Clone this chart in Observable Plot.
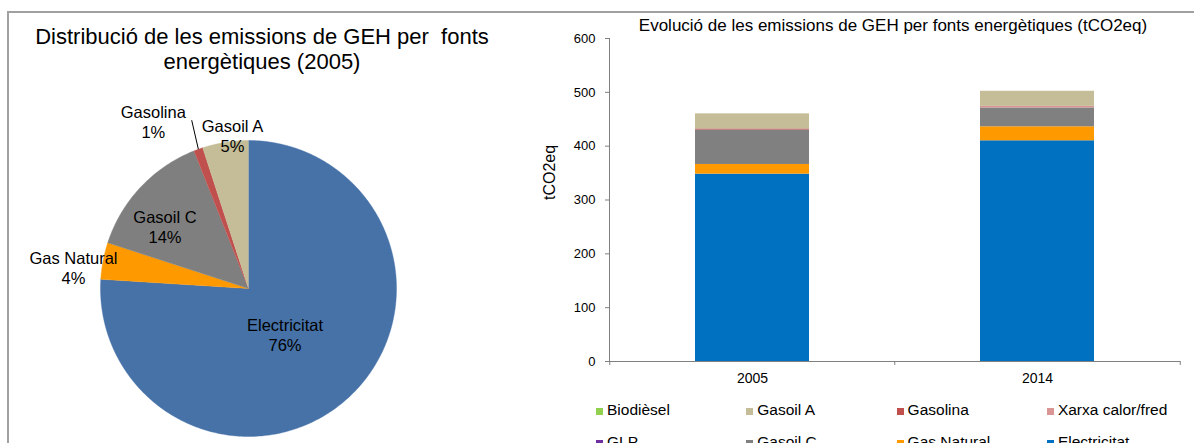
<!DOCTYPE html>
<html>
<head>
<meta charset="utf-8">
<script src="https://cdn.jsdelivr.net/npm/d3@7"></script>
<script src="https://cdn.jsdelivr.net/npm/@observablehq/plot@0.6"></script>
<style>
  body { margin: 0; background: #fff; font-family: "Liberation Sans", Arial, sans-serif; }
  #page { position: relative; width: 1194px; height: 443px; overflow: hidden; background: #fff; }
  #frame { position: absolute; left: 7px; top: 11px; right: 0; bottom: -4px;
           border-top: 2px solid #a0a0a0; border-left: 2px solid #a0a0a0; }
  .title { position: absolute; text-align: center; color: #000; white-space: pre; }
  .chart { position: absolute; top: 0; }
  .legend-item { position: absolute; font-size: 15.5px; line-height: 18px; color: #000; white-space: nowrap; }
  .legend-item .sw { display: inline-block; width: 7px; height: 7px; margin-right: 4px; }
</style>
</head>
<body>
<div id="page">
  <div id="frame"></div>
  <div class="title" style="left:12px; top:24px; width:500px; font-size:22px; line-height:25px;">Distribució de les emissions de GEH per  fonts
energètiques (2005)</div>
  <div class="title" style="left:593px; top:16px; width:600px; font-size:17px; line-height:20px;">Evolució de les emissions de GEH per fonts energètiques (tCO2eq)</div>
  <div id="pie" class="chart" style="left:0px;"></div>
  <div id="bars" class="chart" style="left:530px;"></div>
  <div id="legend"></div>
</div>
<script>
// ---- 2005 share of emissions by energy source (%) ----
const pieSources = ["Electricitat", "Gas Natural", "Gasoil C", "Gasolina", "Gasoil A"];
const pieShares  = [76, 4, 14, 1, 5];
const pieColors  = ["#4672A8", "#FF9900", "#7F7F7F", "#C0504D", "#C4BD97"];

// ---- emissions by energy source (tCO2eq), stacked bottom to top ----
const years   = ["2005", "2014"];
const sources = ["Electricitat", "Gas Natural", "Gasoil C", "GLP", "Xarxa calor/fred", "Gasolina", "Gasoil A", "Biodièsel"];
const emissions2005 = [348, 18, 64, 0, 0, 2, 28, 0];
const emissions2014 = [410, 26, 35, 0, 2, 1, 28, 0];
const sourceColors  = ["#0070C0", "#FF9900", "#808080", "#7030A0", "#D99694", "#C0504D", "#C4BD97", "#92D050"];
const yTicks = [0, 100, 200, 300, 400, 500, 600];

const font = "Liberation Sans, Arial, sans-serif";

// ---------- pie chart ----------
// slices run clockwise from 12 o'clock; x = sin(angle), y = cos(angle) in unit-circle space
let cum = 0;
const slices = pieSources.map((name, i) => {
  const a0 = cum / 100 * 2 * Math.PI;
  cum += pieShares[i];
  const a1 = cum / 100 * 2 * Math.PI;
  return {name, share: pieShares[i], a0, a1, mid: (a0 + a1) / 2};
});
const polar = (a, r) => ({x: r * Math.sin(a), y: r * Math.cos(a)});

// outline of each wedge: centre, then the arc traced one degree at a time
const wedges = slices.flatMap(s => {
  const n = Math.max(2, Math.ceil((s.a1 - s.a0) / (Math.PI / 180)));
  const pts = [{name: s.name, x: 0, y: 0}];
  for (let k = 0; k <= n; k++) pts.push({name: s.name, ...polar(s.a0 + (s.a1 - s.a0) * k / n, 1)});
  return pts;
});

// label placement: distance from the centre (in radii) and a small pixel nudge
const labelRadius = [0.40, 1.19, 0.70, 1.30, 1.04];
const labelNudge  = [[-4, 3], [-2, 12], [-8, 9], [-30, 14], [8, -1]];

const pieMarks = [
  Plot.line(wedges, {x: "x", y: "y", z: "name", fill: "name", stroke: "name", strokeWidth: 0.4, curve: "linear"})
];
slices.forEach((s, i) => {
  const p = polar(s.mid, labelRadius[i]);
  pieMarks.push(Plot.text([s], {
    x: () => p.x, y: () => p.y,
    text: d => `${d.name}\n${d.share}%`,
    dx: labelNudge[i][0], dy: labelNudge[i][1],
    fontSize: 16.5, lineHeight: 1.2, fill: "#000"
  }));
});
// leader line for the thin Gasolina wedge
const gasolina = slices[pieSources.indexOf("Gasolina")];
pieMarks.push(Plot.link([gasolina], {
  x1: d => polar(d.mid, 1.0).x, y1: d => polar(d.mid, 1.0).y,
  x2: d => polar(d.mid + 0.02, 1.2).x, y2: d => polar(d.mid + 0.02, 1.2).y,
  stroke: "#000", strokeWidth: 1
}));

const pie = Plot.plot({
  width: 560, height: 443,
  marginLeft: 100, marginRight: 164, marginTop: 140, marginBottom: 7,
  x: {domain: [-1, 1], axis: null},
  y: {domain: [-1, 1], axis: null},
  color: {domain: pieSources, range: pieColors},
  style: {background: "none", overflow: "visible", fontFamily: font},
  marks: pieMarks
});
document.getElementById("pie").append(pie);

// ---------- stacked bars ----------
const series = [emissions2005, emissions2014];
const barData = years.flatMap((year, j) =>
  sources.map((source, i) => ({year, source, value: series[j][i]})));

const bw = 664, bml = 79, bmr = 14;
const halfStep = (bw - bml - bmr) / years.length / 2;

const bars = Plot.plot({
  width: bw, height: 395,
  marginLeft: bml, marginRight: bmr, marginTop: 38, marginBottom: 34,
  x: {domain: years, paddingInner: 0.6, paddingOuter: 0.3},
  y: {domain: [0, 600]},
  color: {domain: sources, range: sourceColors},
  style: {background: "none", overflow: "visible", fontFamily: font, color: "#000"},
  marks: [
    Plot.barY(barData, {x: "year", y: "value", fill: "source"}),
    Plot.frame({anchor: "left", stroke: "#808080"}),
    Plot.ruleY([0], {stroke: "#808080"}),
    Plot.ruleX(years, {x: d => d, dx: -halfStep, y1: 0, y2: 0, insetBottom: -4, stroke: "#808080"}),
    Plot.ruleX(years.slice(-1), {x: d => d, dx: halfStep, y1: 0, y2: 0, insetBottom: -4, stroke: "#808080"}),
    Plot.axisY({ticks: yTicks, tickSize: 4, tickPadding: 10, fontSize: 13, stroke: "#808080", fill: "#000", label: null}),
    Plot.axisX({tickSize: 0, tickPadding: 12, fontSize: 14, fill: "#000", label: null}),
    Plot.text(["tCO2eq"], {frameAnchor: "left", rotate: -90, dx: -60, text: d => d, fontSize: 16, fill: "#000"})
  ]
});
document.getElementById("bars").append(bars);

// ---------- legend (two rows, series listed top of stack first) ----------
const legendOrder = sources.slice().reverse();
const legend = document.getElementById("legend");
legendOrder.forEach((name, k) => {
  const row = Math.floor(k / 4), col = k % 4;
  const item = document.createElement("div");
  item.className = "legend-item";
  item.style.left = (596 + col * 150.3) + "px";
  item.style.top = (401 + row * 32) + "px";
  const sw = document.createElement("span");
  sw.className = "sw";
  sw.style.background = sourceColors[sources.indexOf(name)];
  item.append(sw, document.createTextNode(name));
  legend.append(item);
});
</script>
</body>
</html>
